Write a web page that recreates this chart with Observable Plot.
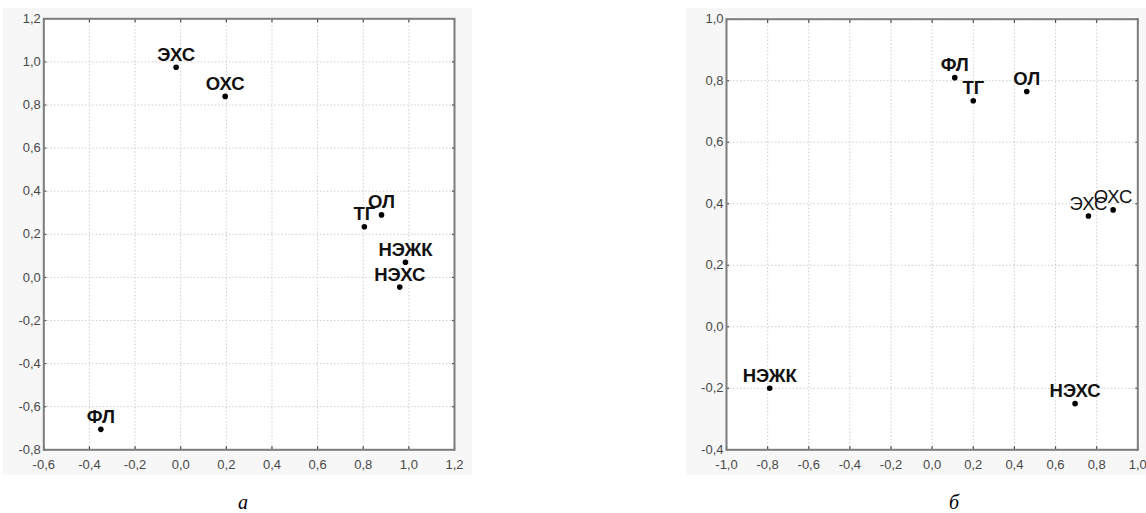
<!DOCTYPE html>
<html><head><meta charset="utf-8">
<script src="https://cdn.jsdelivr.net/npm/d3@7"></script>
<script src="https://cdn.jsdelivr.net/npm/@observablehq/plot@0.6"></script>
<style>
body{margin:0;background:#fff;width:1146px;height:513px;position:relative;overflow:hidden;font-family:"Liberation Sans",Arial,sans-serif}
.panel{position:absolute;background:#f7f7f7}
.panel svg{display:block}
.cap{position:absolute;font-family:"Liberation Serif","Times New Roman",serif;font-style:italic;font-size:20px;line-height:20px}
</style></head><body>
<div id="a" class="panel" style="left:3px;top:8px"></div>
<div id="b" class="panel" style="left:686px;top:8px"></div>
<div class="cap" style="left:238px;top:492px">а</div>
<div class="cap" style="left:949px;top:492px">б</div>
<script>
// Panel а
const namesA = ["ЭХС", "ОХС", "ТГ", "ОЛ", "НЭЖК", "НЭХС", "ФЛ"];
const xA = [-0.02, 0.195, 0.805, 0.88, 0.985, 0.96, -0.35];
const yA = [0.975, 0.84, 0.235, 0.29, 0.07, -0.045, -0.705];
const boldA = [true, true, true, true, true, true, true];
const xTicksA = [-0.6, -0.4, -0.2, 0.0, 0.2, 0.4, 0.6, 0.8, 1.0, 1.2];
const yTicksA = [-0.8, -0.6, -0.4, -0.2, 0.0, 0.2, 0.4, 0.6, 0.8, 1.0, 1.2];

// Panel б
const namesB = ["ФЛ", "ТГ", "ОЛ", "ЭХС", "ОХС", "НЭЖК", "НЭХС"];
const xB = [0.11, 0.20, 0.46, 0.76, 0.88, -0.79, 0.695];
const yB = [0.81, 0.735, 0.765, 0.36, 0.38, -0.20, -0.25];
const boldB = [true, true, true, false, false, true, true];
const xTicksB = [-1.0, -0.8, -0.6, -0.4, -0.2, 0.0, 0.2, 0.4, 0.6, 0.8, 1.0];
const yTicksB = [-0.4, -0.2, 0.0, 0.2, 0.4, 0.6, 0.8, 1.0];

const fmt = d => d.toFixed(1).replace(".", ",");

function panel(id, o) {
  const data = o.names.map((n, i) => ({n, x: o.xs[i], y: o.ys[i], b: o.bold[i]}));
  const xd = [o.xt[0], o.xt[o.xt.length - 1]];
  const yd = [o.yt[0], o.yt[o.yt.length - 1]];
  const axisStyle = {fontSize: 13, color: "#484848", strokeWidth: 1.2, label: null};
  const chart = Plot.plot({
    width: o.width, height: o.height,
    marginLeft: o.ml, marginRight: o.mr, marginTop: o.mt, marginBottom: o.mb,
    style: {background: "transparent", fontFamily: "Liberation Sans, Arial, sans-serif", overflow: "hidden"},
    x: {domain: xd, label: null},
    y: {domain: yd, label: null},
    marks: [
      Plot.frame({fill: "white", stroke: null}),
      Plot.gridX(o.xt, {stroke: "#c8c8c8", strokeOpacity: 1, strokeDasharray: "1.5,2", strokeWidth: 0.9}),
      Plot.gridY(o.yt, {stroke: "#c8c8c8", strokeOpacity: 1, strokeDasharray: "1.5,2", strokeWidth: 0.9}),
      Plot.axisX(o.xt, {anchor: "bottom", tickSize: -3, tickPadding: 12.5, tickFormat: fmt, ...axisStyle}),
      Plot.axisX(o.xt, {anchor: "top", tickSize: -3, tickFormat: () => null, ...axisStyle}),
      Plot.axisY(o.yt, {anchor: "left", tickSize: -3, tickPadding: 6, tickFormat: fmt, ...axisStyle}),
      Plot.axisY(o.yt, {anchor: "right", tickSize: -3, tickFormat: () => null, ...axisStyle}),
      Plot.frame({stroke: "#7d7d7d", strokeWidth: 2}),
      Plot.dot(data, {x: "x", y: "y", r: 2.8, fill: "black", stroke: null}),
      Plot.text(data.filter(d => d.b), {x: "x", y: "y", text: "n", lineAnchor: "bottom", dy: -6.5, fontSize: 18.5, fontWeight: "bold", fill: "#111"}),
      Plot.text(data.filter(d => !d.b), {x: "x", y: "y", text: "n", lineAnchor: "bottom", dy: -6.5, fontSize: 18.5, fontWeight: "normal", fill: "#111"})
    ]
  });
  document.getElementById(id).appendChild(chart);
}

panel("a", {width: 469, height: 467, ml: 40.3, mr: 18, mt: 10.3, mb: 25.7,
  names: namesA, xs: xA, ys: yA, bold: boldA, xt: xTicksA, yt: yTicksA});
panel("b", {width: 460, height: 467, ml: 40, mr: 8.7, mt: 10.7, mb: 25.7,
  names: namesB, xs: xB, ys: yB, bold: boldB, xt: xTicksB, yt: yTicksB});
</script>
</body></html>
